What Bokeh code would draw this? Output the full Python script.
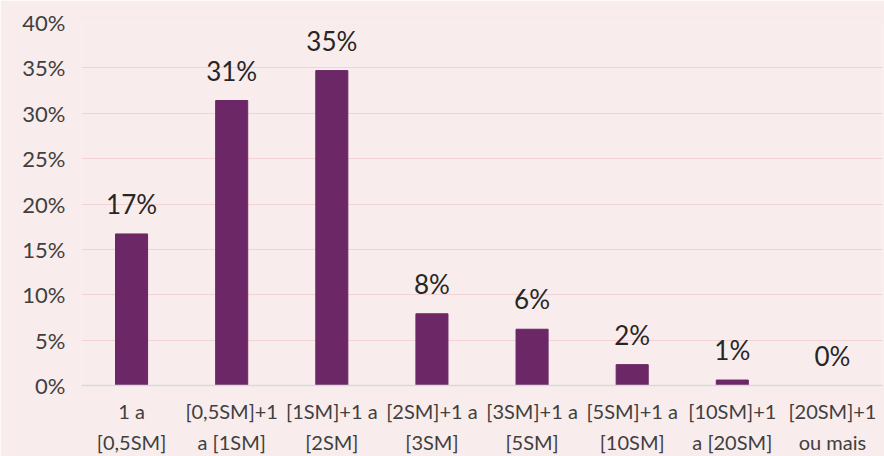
from bokeh.plotting import figure
from bokeh.models import ColumnDataSource, FixedTicker, CustomJSTickFormatter, Range1d, CategoricalAxis
from bokeh.core.properties import value
from bokeh.embed import file_html
from bokeh.resources import INLINE

categories = ["1 a [0,5SM]", "[0,5SM]+1 a [1SM]", "[1SM]+1 a [2SM]", "[2SM]+1 a [3SM]",
              "[3SM]+1 a [5SM]", "[5SM]+1 a [10SM]", "[10SM]+1 a [20SM]", "[20SM]+1 ou mais"]
label_line1 = ["1 a", "[0,5SM]+1", "[1SM]+1 a", "[2SM]+1 a", "[3SM]+1 a", "[5SM]+1 a", "[10SM]+1", "[20SM]+1"]
label_line2 = ["[0,5SM]", "a [1SM]", "[2SM]", "[3SM]", "[5SM]", "[10SM]", "a [20SM]", "ou mais"]
values = [16.7, 31.4, 34.7, 7.9, 6.2, 2.3, 0.6, 0.0]
labels = ["17%", "31%", "35%", "8%", "6%", "2%", "1%", "0%"]
y_ticks = [0, 5, 10, 15, 20, 25, 30, 35, 40]

BG = "#F9ECEC"
BAR = "#6B2766"
FONT = "Lato"

src = ColumnDataSource(dict(cat=categories, val=values, lab=labels))

p = figure(x_range=categories, width=884, height=456, output_backend="svg",
           toolbar_location=None, background_fill_color=BG, border_fill_color=BG,
           min_border_left=81, min_border_right=2, min_border_top=22, min_border_bottom=0)
p.y_range = Range1d(0, 40)
p.x_range.range_padding = 0
p.outline_line_color = None

p.vbar(x="cat", top="val", width=0.32, source=src, fill_color=BAR, line_color=BAR)
p.text(x="cat", y="val", text="lab", source=src, text_align="center", text_baseline="bottom",
       y_offset=-14, text_font=value(FONT), text_font_size="26px", text_color="#262626")

p.yaxis.ticker = FixedTicker(ticks=y_ticks)
p.yaxis.formatter = CustomJSTickFormatter(code="return tick + '%';")
p.yaxis.axis_line_color = None
p.yaxis.major_tick_line_color = None
p.yaxis.minor_tick_line_color = None
p.yaxis.major_label_text_font = FONT
p.yaxis.major_label_text_font_size = "22px"
p.yaxis.major_label_text_color = "#404040"
p.yaxis.major_label_standoff = 10

fmt_code = "const i = cats.indexOf(tick); return i >= 0 ? lines[i] : tick;"

ax1 = p.xaxis[0]
ax1.formatter = CustomJSTickFormatter(args=dict(cats=categories, lines=label_line1), code=fmt_code)
ax1.axis_line_color = "#D9D9D9"
ax1.axis_line_width = 1.5
ax1.major_tick_line_color = None
ax1.minor_tick_line_color = None
ax1.major_label_text_font = FONT
ax1.major_label_text_font_size = "20px"
ax1.major_label_text_color = "#404040"
ax1.major_label_standoff = 7

ax2 = CategoricalAxis(formatter=CustomJSTickFormatter(args=dict(cats=categories, lines=label_line2), code=fmt_code),
                      axis_line_color=None, major_tick_line_color=None, minor_tick_line_color=None,
                      major_label_text_font=FONT, major_label_text_font_size="20px",
                      major_label_text_color="#404040", major_label_standoff=-2)
p.add_layout(ax2, "below")

p.xgrid.grid_line_color = None
p.ygrid.grid_line_color = "#F3D2D6"
p.ygrid.grid_line_width = 1.2

open("out.html", "w").write(file_html(p, INLINE))
